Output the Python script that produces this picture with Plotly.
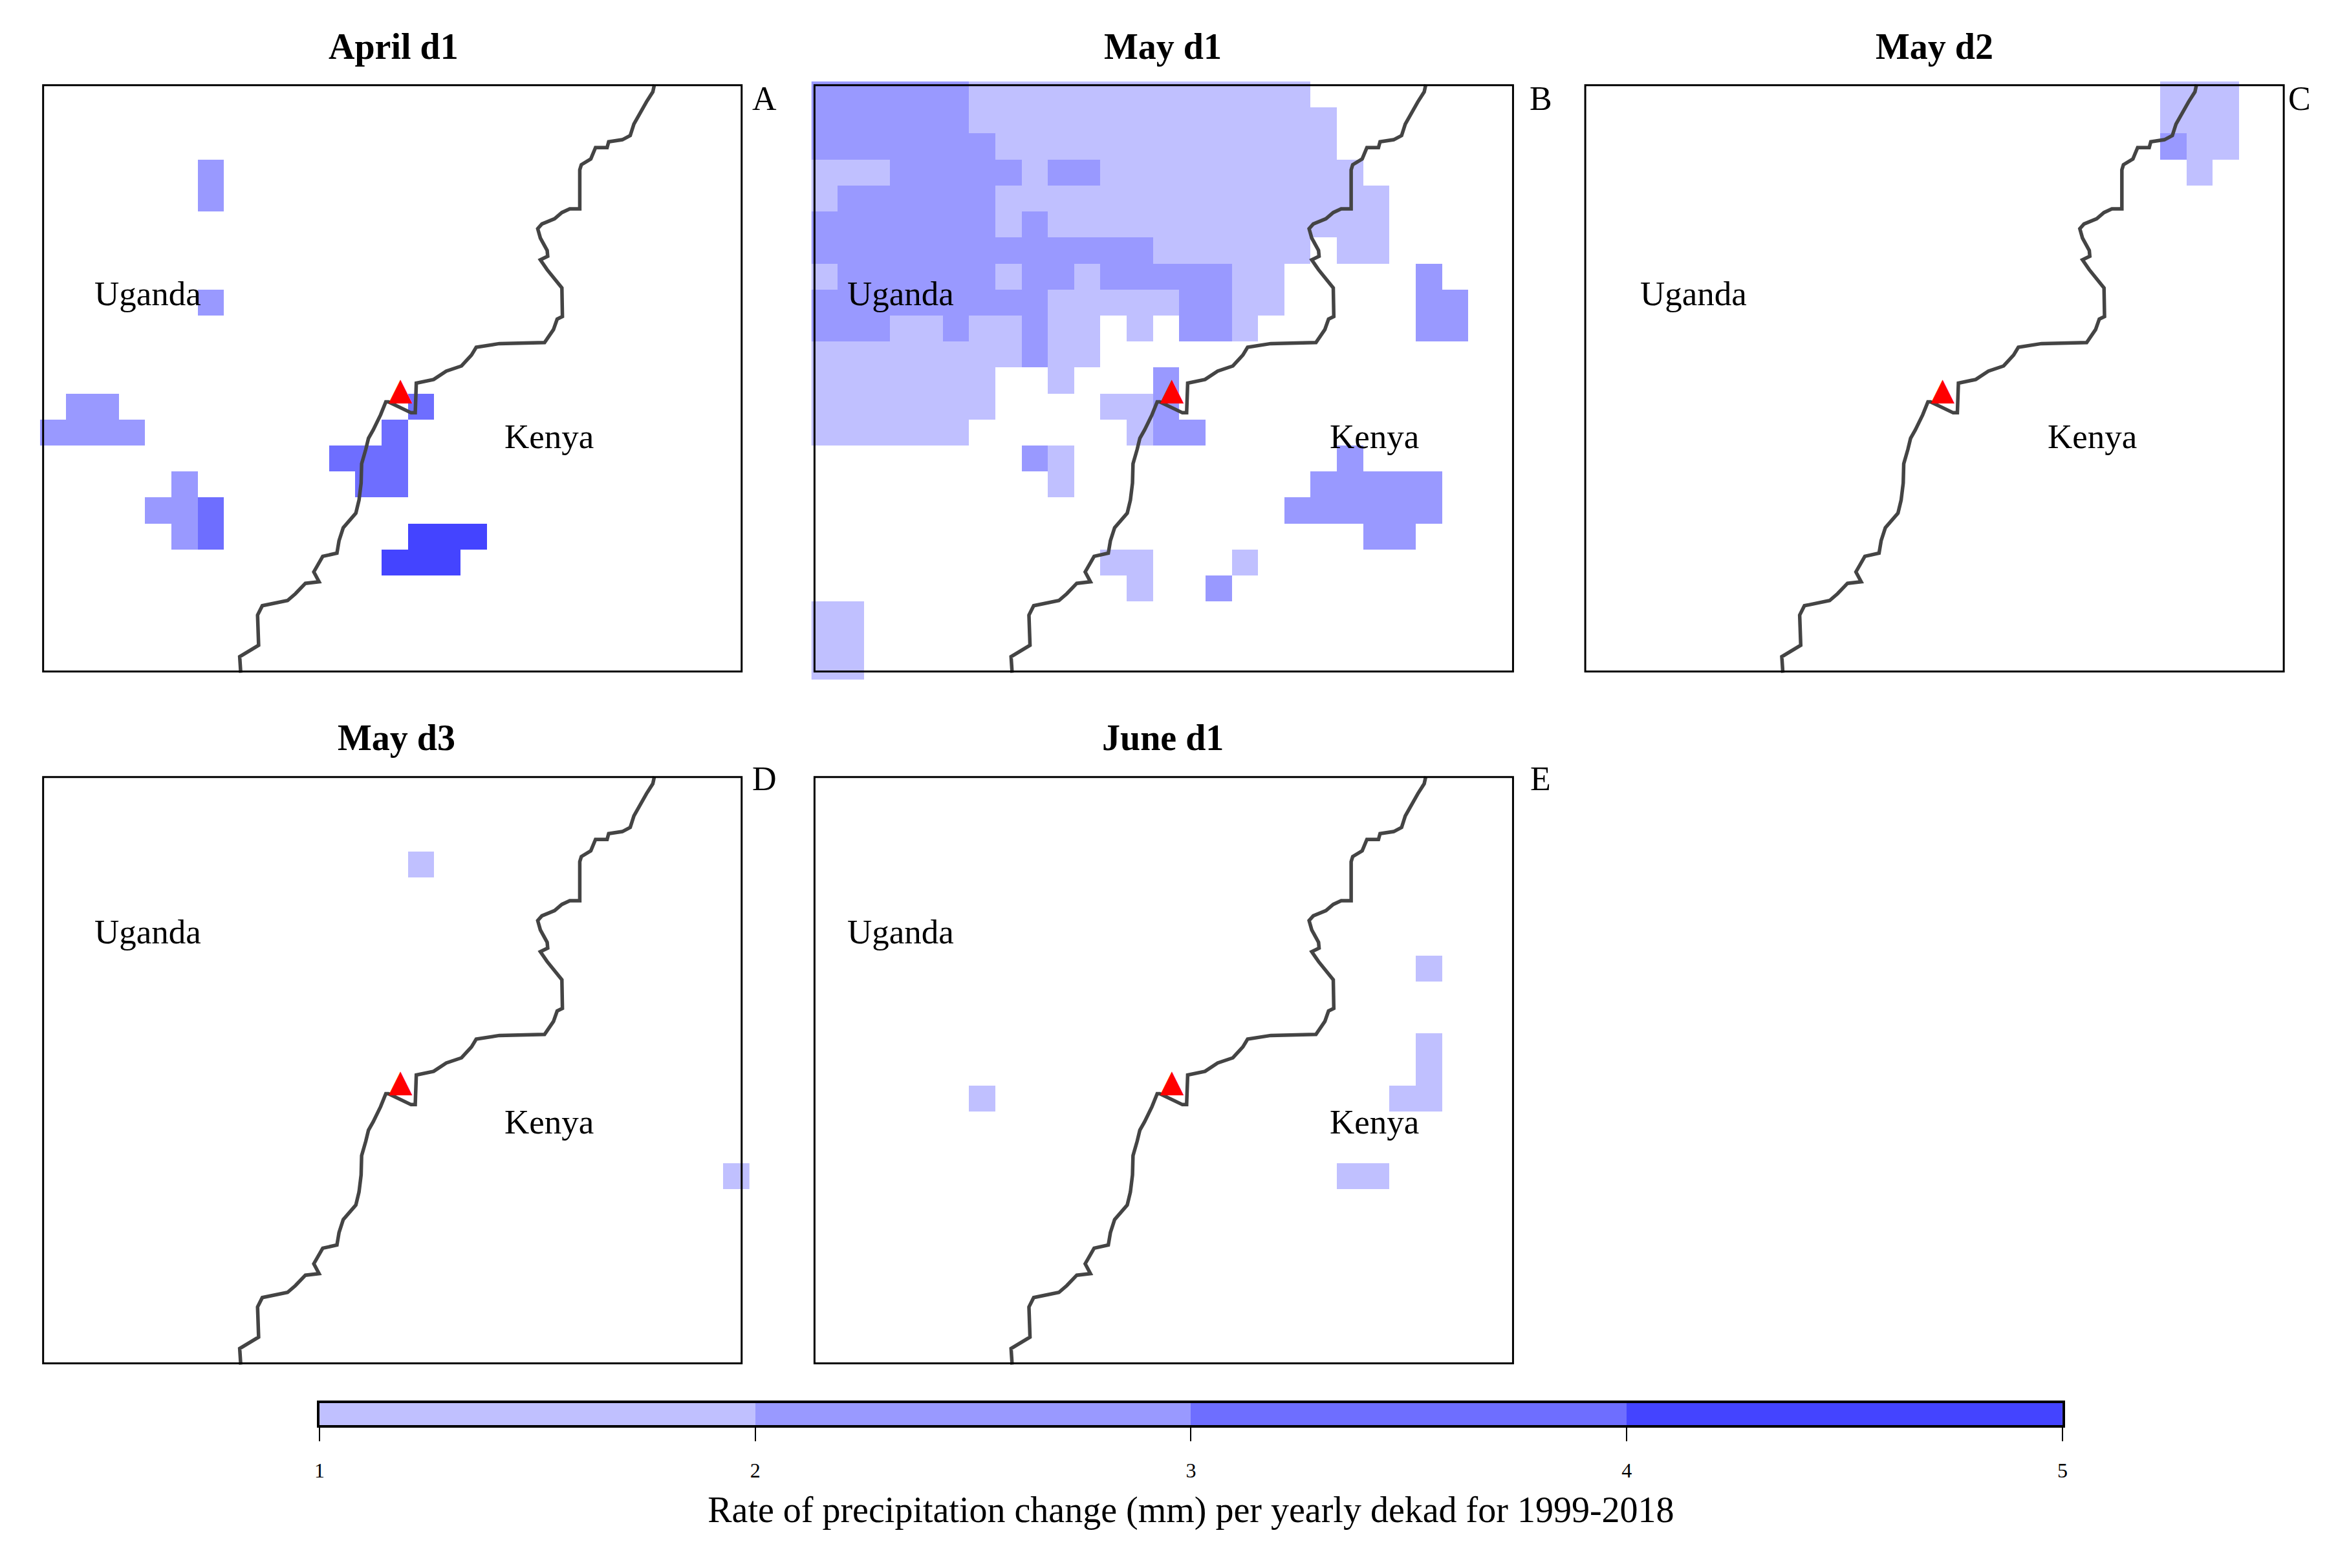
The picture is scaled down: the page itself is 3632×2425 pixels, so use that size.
import numpy as np
import plotly.graph_objects as go

# map grid, 0.05 degree cells
lon_first = 33.625
lat_first = 1.275
cell = 0.05
lon_range = [33.6, 34.95]
lat_range = [0.15, 1.3]

# frame of each map
frame_lon = [33.606, 34.935]
frame_lat = [0.1655, 1.293]

# rate class per cell, rows from north to south, "." is no significant trend
april_d1 = [
    "", "", "",
    "......2",
    "......2",
    "", "", "",
    "......2",
    "", "", "",
    ".22...........3",
    "2222.........3",
    "...........333",
    ".....2......33",
    "....223",
    ".....23.......444",
    ".............444",
]
may_d1 = [
    "2222221111111111111",
    "22222211111111111111",
    "22222221111111111111",
    "111222221221111111111",
    "1222222111111111111111",
    "2222222121111111111111",
    "2222222222222111111.11",
    "122222212212222211.....2",
    "222222222111112211.....22",
    "22211211211.1.221......22",
    "11111111211",
    "1111111..1...2",
    "1111111....112",
    "111111......122",
    "........21..........2",
    ".........1.........22222",
    "..................222222",
    ".....................22",
    "...........11...1",
    "............1..2",
    "11",
    "11",
    "11",
]
may_d2 = [
    "......................111",
    "......................111",
    "......................211",
    ".......................1",
]
may_d3 = [
    "", "", "",
    "..............1",
    "", "", "", "", "", "", "", "", "", "", "",
    "..........................1",
]
june_d1 = [
    "", "", "", "", "", "", "",
    ".......................1",
    "", "",
    ".......................1",
    ".......................1",
    "......1...............11",
    "", "",
    "....................11",
]

panel_titles = ["April d1", "May d1", "May d2", "May d3", "June d1"]
panel_letters = ["A", "B", "C", "D", "E"]
panel_rows = [april_d1, may_d1, may_d2, may_d3, june_d1]

uganda_lon = [33.805, 33.770, 33.812, 33.805, 33.770]
uganda_lat = [0.892, 0.892, 0.892, 0.996, 0.996]
kenya_lon = [34.569, 34.671, 34.571, 34.569, 34.671]
kenya_lat = [0.618, 0.618, 0.618, 0.630, 0.630]

site_lon = [34.286]
site_lat = [0.703]

border_lon = [34.769, 34.766, 34.754, 34.742, 34.730, 34.723, 34.708, 34.682, 34.679, 34.657,
              34.648, 34.630, 34.627, 34.627, 34.608, 34.593, 34.579, 34.555, 34.547, 34.552,
              34.565, 34.566, 34.552, 34.565, 34.579, 34.593, 34.594, 34.584, 34.577, 34.560,
              34.474, 34.430, 34.421, 34.402, 34.373, 34.349, 34.316, 34.314, 34.306, 34.263,
              34.258, 34.248, 34.234, 34.225, 34.220, 34.212, 34.211, 34.207, 34.201, 34.177,
              34.169, 34.165, 34.138, 34.121, 34.131, 34.105, 34.086, 34.071, 34.023, 34.014,
              34.016, 33.980, 33.982]
border_lat = [1.294, 1.280, 1.261, 1.239, 1.218, 1.196, 1.188, 1.184, 1.173, 1.173,
              1.151, 1.140, 1.130, 1.055, 1.055, 1.048, 1.036, 1.026, 1.017, 0.999,
              0.975, 0.964, 0.957, 0.938, 0.921, 0.903, 0.848, 0.843, 0.823, 0.798,
              0.796, 0.789, 0.774, 0.753, 0.743, 0.727, 0.720, 0.663, 0.663, 0.684,
              0.684, 0.659, 0.630, 0.614, 0.593, 0.565, 0.528, 0.495, 0.470, 0.442,
              0.417, 0.393, 0.387, 0.357, 0.338, 0.335, 0.315, 0.302, 0.292, 0.274,
              0.216, 0.194, 0.163]

# colour scale
class_colors = ["#C0C0FF", "#9999FF", "#6E6EFF", "#4444FF"]
class_values = [1.5, 2.5, 3.5, 4.5]
scale_ticks = [1, 2, 3, 4, 5]
scale_title = "Rate of precipitation change (mm) per yearly dekad for 1999-2018"

FONT = "Liberation Serif"

# page is 3632x2425, the browser keeps an 8px body margin
W = 3616
H = 2409


def px_x(x):
    return (x - 8) / W


def px_y(y):
    return 1 - (y - 8) / H


def to_grid(rows):
    z = np.full((23, 27), np.nan)
    for r, row in enumerate(rows):
        for c, ch in enumerate(row):
            if ch != ".":
                z[r, c] = class_values[int(ch) - 1]
    return z


# left and top pixel of each map's grid
panel_left = [54, 1252, 2449, 54, 1252]
panel_top = [126, 126, 126, 1196, 1196]
panel_w = 1102
panel_h = 925

title_x = [603, 1798, 2996, 608, 1798]
title_y = [72, 72, 72, 1141, 1141]
letter_x = [1179, 2385, 3563, 1179, 2385]
letter_y = [153, 153, 153, 1204, 1204]

colorscale = []
for i, col in enumerate(class_colors):
    colorscale.append([i / 4, col])
    colorscale.append([(i + 1) / 4, col])

fig = go.Figure()
annotations = []
shapes = []
layout_axes = {}

for i in range(5):
    n = i + 1
    xref = "x" if n == 1 else f"x{n}"
    yref = "y" if n == 1 else f"y{n}"
    xname = "xaxis" if n == 1 else f"xaxis{n}"
    yname = "yaxis" if n == 1 else f"yaxis{n}"

    fig.add_trace(go.Heatmap(z=to_grid(panel_rows[i]), x0=lon_first, dx=cell, y0=lat_first, dy=-cell,
                             coloraxis="coloraxis", xaxis=xref, yaxis=yref, hoverongaps=False))
    fig.add_trace(go.Scatter(x=border_lon, y=border_lat, mode="lines", xaxis=xref, yaxis=yref,
                             line=dict(color="#444444", width=5.5), showlegend=False))
    fig.add_trace(go.Scatter(x=site_lon, y=site_lat, mode="text", text=["\u25b2"], xaxis=xref, yaxis=yref,
                             textposition="middle center", cliponaxis=False, showlegend=False,
                             textfont=dict(family="DejaVu Sans", size=48, color="#FF0000")))

    layout_axes[xname] = dict(visible=False, range=lon_range, anchor=yref,
                              domain=[px_x(panel_left[i]), px_x(panel_left[i] + panel_w)])
    layout_axes[yname] = dict(visible=False, range=lat_range, anchor=xref,
                              domain=[px_y(panel_top[i] + panel_h), px_y(panel_top[i])])

    shapes.append(dict(type="rect", xref=xref, yref=yref, layer="above",
                       x0=frame_lon[0], x1=frame_lon[1], y0=frame_lat[0], y1=frame_lat[1],
                       line=dict(color="#000000", width=3), fillcolor="rgba(0,0,0,0)"))

    annotations.append(dict(x=uganda_lon[i], y=uganda_lat[i], xref=xref, yref=yref, text="Uganda", showarrow=False,
                            font=dict(family=FONT, size=53, color="#000000")))
    annotations.append(dict(x=kenya_lon[i], y=kenya_lat[i], xref=xref, yref=yref, text="Kenya", showarrow=False,
                            font=dict(family=FONT, size=53, color="#000000")))
    annotations.append(dict(x=px_x(title_x[i]), y=px_y(title_y[i]), xref="paper", yref="paper",
                            xanchor="center", yanchor="middle",
                            text="<b>" + panel_titles[i] + "</b>", showarrow=False,
                            font=dict(family=FONT, size=56, color="#000000")))
    annotations.append(dict(x=px_x(letter_x[i]), y=px_y(letter_y[i]), xref="paper", yref="paper",
                            xanchor="center", yanchor="middle",
                            text=panel_letters[i], showarrow=False,
                            font=dict(family=FONT, size=52, color="#000000")))

# scale bar
fig.add_trace(go.Heatmap(z=[class_values], x=class_values, y=[0], coloraxis="coloraxis",
                         xaxis="x6", yaxis="y6"))
layout_axes["xaxis6"] = dict(range=[scale_ticks[0], scale_ticks[-1]], anchor="y6", tickmode="array",
                             tickvals=scale_ticks, ticktext=[str(t) for t in scale_ticks],
                             ticks="outside", ticklen=21, tickwidth=2, tickcolor="#000000",
                             showline=True, mirror=True, linecolor="#000000", linewidth=4, showgrid=False,
                             zeroline=False, ticklabelstandoff=18,
                             tickfont=dict(family=FONT, size=32, color="#000000"),
                             title=dict(text=scale_title, standoff=24,
                                        font=dict(family=FONT, size=56, color="#000000")),
                             domain=[px_x(488), px_x(3195)])
layout_axes["yaxis6"] = dict(range=[-0.5, 0.5], anchor="x6", showticklabels=False, ticks="",
                             showline=True, mirror=True, linecolor="#000000", linewidth=4, showgrid=False,
                             zeroline=False, domain=[px_y(2204), px_y(2170)])

fig.update_layout(
    width=W, height=H, margin=dict(l=0, r=0, t=0, b=0), showlegend=False,
    paper_bgcolor="#FFFFFF", plot_bgcolor="#FFFFFF",
    coloraxis=dict(cmin=scale_ticks[0], cmax=scale_ticks[-1], colorscale=colorscale, showscale=False),
    annotations=annotations, shapes=shapes, **layout_axes,
)

fig.write_html("out.html")
